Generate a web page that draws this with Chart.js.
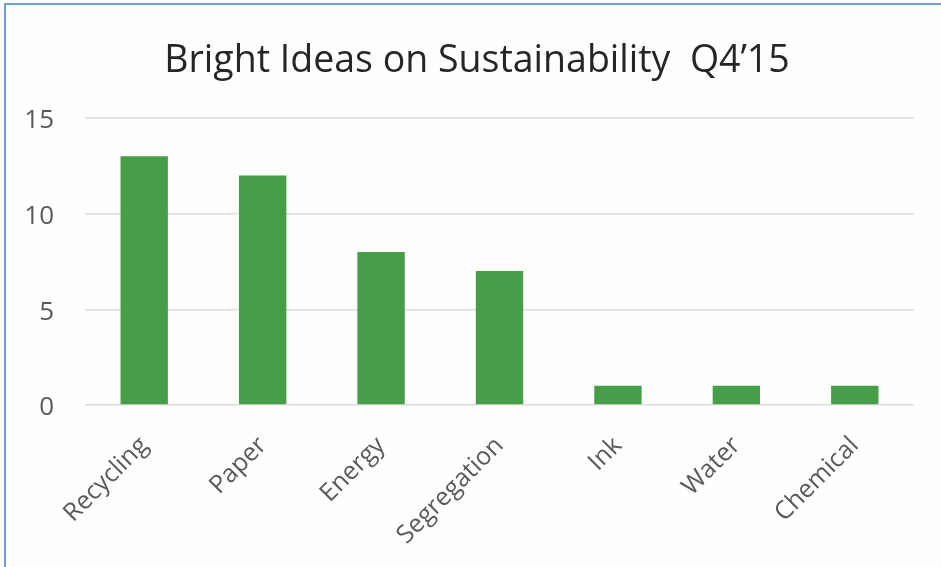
<!DOCTYPE html>
<html>
<head>
<meta charset="utf-8">
<script src="https://cdn.jsdelivr.net/npm/chart.js@4"></script>
<style>
  html, body { margin: 0; padding: 0; background: #ffffff; }
  #wrap { position: relative; width: 941px; height: 567px; overflow: hidden; background: #fefefe; }
  #frame { position: absolute; left: 4px; top: 3px; width: 2000px; height: 2000px;
           border-left: 2px solid #6e9fd6; border-top: 2px solid #6e9fd6; pointer-events: none; }
  canvas { position: absolute; left: 0; top: 0; }
</style>
</head>
<body>
<div id="wrap">
  <canvas id="c" width="941" height="567"></canvas>
  <div id="frame"></div>
</div>
<script>
const titleText = "Bright Ideas on Sustainability  Q4\u201915";
const categories = ["Recycling", "Paper", "Energy", "Segregation", "Ink", "Water", "Chemical"];
const ideaCounts = [13, 12, 8, 7, 1, 1, 1];
const yTicks = [0, 5, 10, 15];

const FONT = "'Open Sans', 'Noto Sans', sans-serif";

// shift the title block so it is centred like the original (slightly right of canvas centre)
const titleShift = {
  id: 'titleShift',
  afterLayout(chart) {
    const t = chart.titleBlock;
    if (t) { t.left += 40; }
  }
};

new Chart(document.getElementById('c'), {
  type: 'bar',
  data: {
    labels: categories,
    datasets: [{
      data: ideaCounts,
      backgroundColor: '#479e49',
      borderWidth: 0,
      barPercentage: 0.4,
      categoryPercentage: 1.0
    }]
  },
  plugins: [titleShift],
  options: {
    responsive: false,
    animation: false,
    devicePixelRatio: 1,
    layout: { padding: { left: 0, right: 27, top: 0, bottom: 0 } },
    plugins: {
      legend: { display: false },
      tooltip: { enabled: false },
      title: {
        display: true,
        text: titleText,
        color: '#262626',
        font: { family: FONT, size: 37.5, weight: 'normal' },
        padding: { top: 38.5, bottom: 34.5 }
      }
    },
    scales: {
      x: {
        grid: { display: false, drawTicks: false },
        border: { display: false },
        ticks: {
          color: '#595959',
          font: { family: FONT, size: 25 },
          minRotation: 45,
          maxRotation: 45,
          autoSkip: false,
          padding: 26
        },
        afterFit: (s) => { s.height = 162; }
      },
      y: {
        min: 0,
        max: 15,
        afterBuildTicks: (s) => { s.ticks = yTicks.map(v => ({ value: v })); },
        grid: { color: '#dcdcdc', lineWidth: 1.5, drawTicks: false },
        border: { display: false },
        ticks: {
          color: '#595959',
          font: { family: FONT, size: 26 },
          padding: 31,
          labelOffset: 3
        },
        afterFit: (s) => { s.width = 85; }
      }
    }
  }
});
</script>
</body>
</html>
